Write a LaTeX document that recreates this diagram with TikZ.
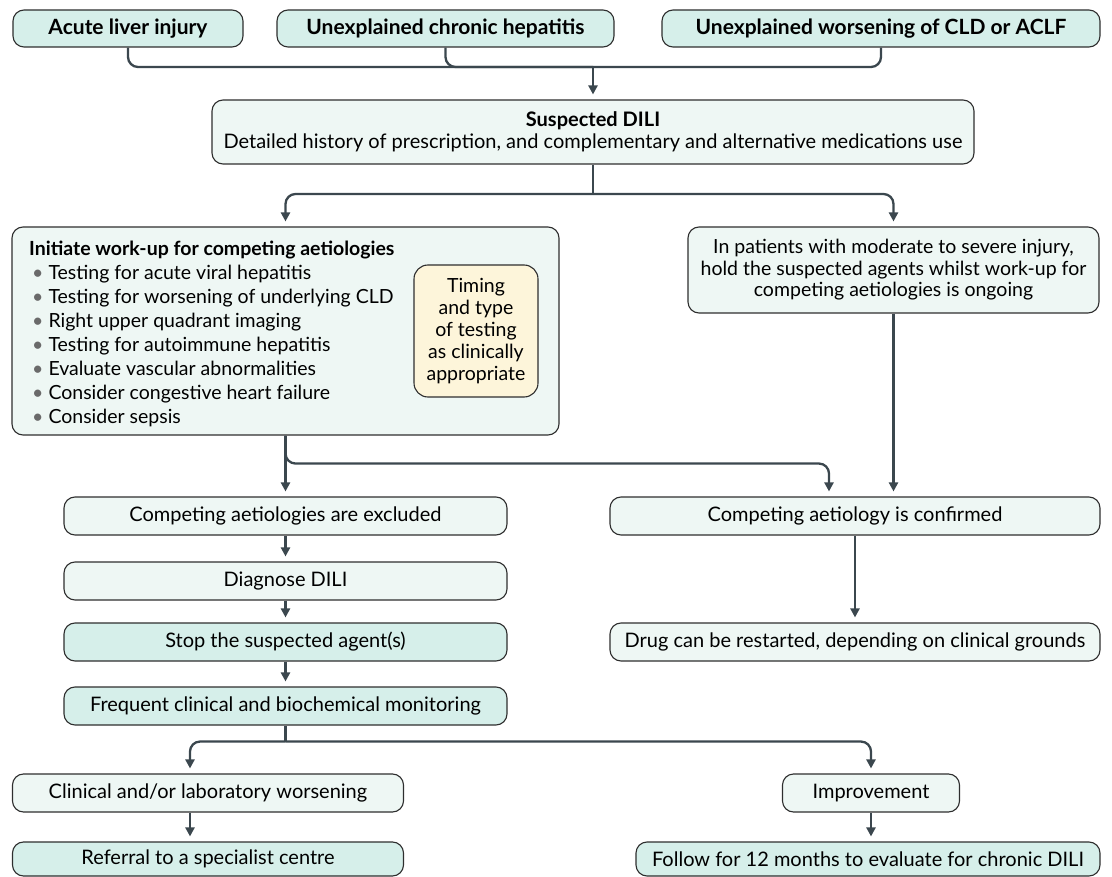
\documentclass[tikz,border=0pt]{standalone}
\usepackage{fontspec}
\setmainfont{Lato}
\usetikzlibrary{arrows.meta,calc}
\definecolor{dark}{HTML}{D6EFEA}
\definecolor{light}{HTML}{EEF7F4}
\definecolor{yel}{HTML}{FDF5DA}
\definecolor{conn}{HTML}{3B474E}
\definecolor{bord}{HTML}{2E2E2E}
\definecolor{bul}{HTML}{6A6A6A}
\newcommand{\fs}{\fontsize{20}{21.5}\selectfont}
\newcommand{\fsb}{\fontsize{21}{22}\selectfont\bfseries}
\newcommand{\bl}{\hspace*{3pt}{\color{bul}\textbullet}\hspace{5pt}}
\tikzset{
  box/.style={draw=bord, line width=1.1pt, rounded corners=11pt, inner sep=0pt, align=center, font=\fs},
  dk/.style={box, fill=dark},
  lt/.style={box, fill=light},
  bx/.style n args={2}{minimum width=#1pt, minimum height=#2pt},
  ln/.style={draw=conn, line width=2.3pt},
  ar/.style={draw=conn, line width=2.3pt, -{Triangle[length=9pt,width=9pt]}, shorten >=5pt},
}
\begin{document}
\begin{tikzpicture}[x=1pt,y=-1pt]
\useasboundingbox (0,0) rectangle (1112,877);
% top row
\node[dk, bx={230}{37}, font=\fsb] (A) at (128,28.5) {Acute liver injury};
\node[dk, bx={337}{37}, font=\fsb] (B) at (445.5,28.5) {Unexplained chronic hepatitis};
\node[dk, bx={438}{37}, font=\fsb] (C) at (881,28.5) {Unexplained worsening of CLD or ACLF};
\node[lt, bx={762}{64}] (S) at (593,132) {\textbf{Suspected DILI}\\Detailed history of prescription, and complementary and alternative medications use};
\coordinate (j1) at (593,67);
\draw[ln, rounded corners=10pt] (A.south) |- (j1);
\draw[ln, rounded corners=10pt] (B.south) |- (j1);
\draw[ln, rounded corners=10pt] (C.south) |- (j1);
\draw[ar] (j1) -- (S.north);
% second row
\node[lt, bx={547}{208}] (I) at (285.5,331) {};
\node[anchor=north west, align=left, inner sep=0pt, font=\fontsize{19.5}{24}\selectfont] (It) at (29,240.5)
 {\textbf{Initiate work-up for competing aetiologies}\\
  \bl Testing for acute viral hepatitis\\
  \bl Testing for worsening of underlying CLD\\
  \bl Right upper quadrant imaging\\
  \bl Testing for autoimmune hepatitis\\
  \bl Evaluate vascular abnormalities\\
  \bl Consider congestive heart failure\\
  \bl Consider sepsis};
\node[box, fill=yel, bx={124}{132}, rounded corners=14pt, font=\fontsize{19.5}{22}\selectfont] (T) at (476,331) {Timing\\and type\\of testing\\as clinically\\appropriate};
\node[lt, bx={411}{86}, font=\fontsize{19.5}{21.5}\selectfont] (R) at (893.5,270) {In patients with moderate to severe injury,\\hold the suspected agents whilst work-up for\\competing aetiologies is ongoing};
\coordinate (j2) at (593,194);
\draw[ln] (S.south) -- (j2);
\draw[ar, rounded corners=10pt] (j2) -| (I.north);
\draw[ar, rounded corners=10pt] (j2) -| (R.north);
% left column
\node[lt, bx={443}{38}] (E) at (285.5,516) {Competing aetiologies are excluded};
\node[lt, bx={443}{38}] (D) at (285.5,581) {Diagnose DILI};
\node[dk, bx={443}{38}] (St) at (285.5,642) {Stop the suspected agent(s)};
\node[dk, bx={443}{38}] (F) at (285.5,706) {Frequent clinical and biochemical monitoring};
% right column
\node[lt, bx={490}{38}] (Cf) at (855,516) {Competing aetiology is confirmed};
\node[lt, bx={490}{38}] (Dr) at (855,642) {Drug can be restarted, depending on clinical grounds};
\draw[ar] (I.south) -- (E.north);
\draw[ar, rounded corners=10pt] (I.south) -- ++(0,28) -| ($(Cf.north)+(-26,0)$);
\draw[ar] (R.south) -- (R.south |- Cf.north);
\draw[ar] (E.south) -- (D.north);
\draw[ar] (D.south) -- (St.north);
\draw[ar] (St.south) -- (F.north);
\draw[ar] (Cf.south) -- (Dr.north);
% bottom
\node[lt, bx={391}{38}] (CL) at (208,793) {Clinical and/or laboratory worsening};
\node[lt, bx={177}{38}] (Im) at (871,793) {Improvement};
\node[dk, bx={391}{34}] (Rf) at (208,859) {Referral to a specialist centre};
\node[dk, bx={464}{34}] (Fo) at (868,859) {Follow for 12 months to evaluate for chronic DILI};
\draw[ln] (F.south) -- ++(0,16) coordinate (j3);
\draw[ar, rounded corners=10pt] (j3) -| ($(CL.north)+(-18,0)$);
\draw[ar, rounded corners=10pt] (j3) -| (Im.north);
\draw[ar] ($(CL.south)+(-18,0)$) -- ($(Rf.north)+(-18,0)$);
\draw[ar] (Im.south) -- (Im.south |- Fo.north);
\end{tikzpicture}
\end{document}
